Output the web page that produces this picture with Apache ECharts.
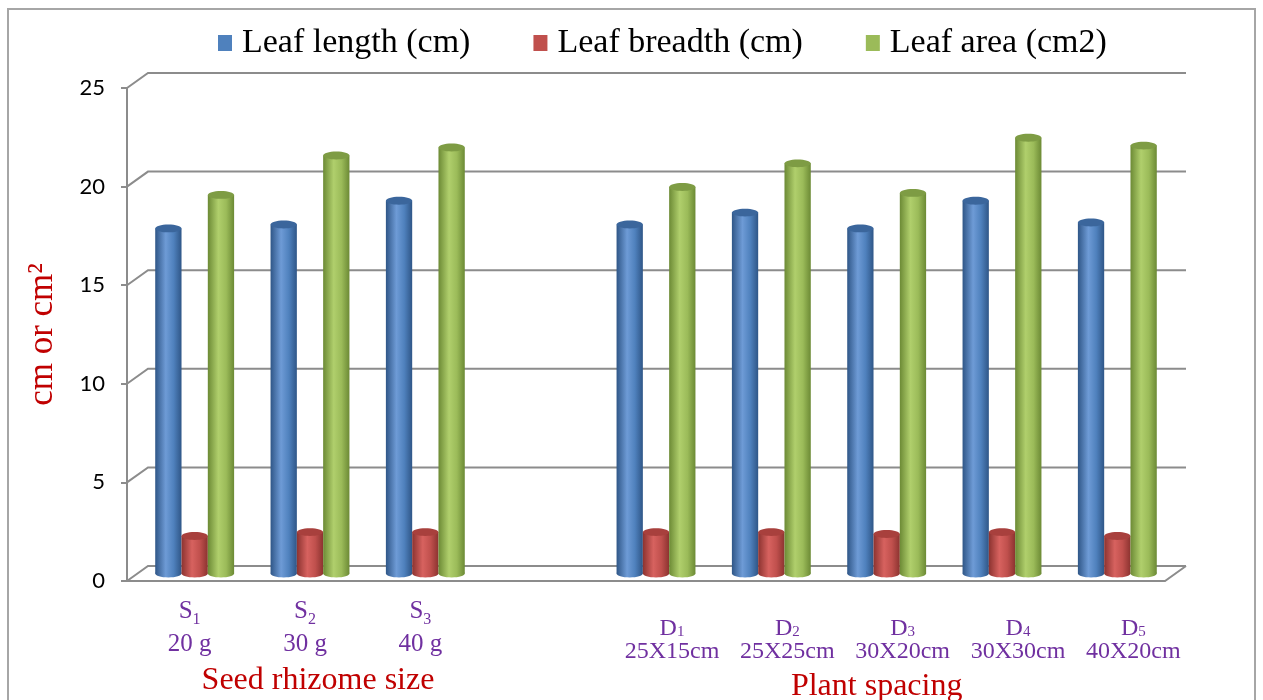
<!DOCTYPE html>
<html>
<head>
<meta charset="utf-8">
<script src="https://cdn.jsdelivr.net/npm/echarts@6/dist/echarts.min.js"></script>
<style>
  html, body { margin: 0; padding: 0; background: #fff; }
  #chart { width: 1263px; height: 700px; }
</style>
</head>
<body>
<div id="chart"></div>
<script>
// categories (index 3 is the empty gap between the two groups)
const codes = ['S', 'S', 'S', '', 'D', 'D', 'D', 'D', 'D']
const codeSubs = ['1', '2', '3', '', '1', '2', '3', '4', '5']
const treatments = ['20 g', '30 g', '40 g', '', '25X15cm', '25X25cm', '30X20cm', '30X30cm', '40X20cm']
const groupTitles = { 1: 'Seed rhizome size', 6: 'Plant spacing' }

// values
const leafLength = [17.5, 17.7, 18.9, null, 17.7, 18.3, 17.5, 18.9, 17.8]
const leafBreadth = [1.9, 2.1, 2.1, null, 2.1, 2.1, 2.0, 2.1, 1.9]
const leafArea = [19.2, 21.2, 21.6, null, 19.6, 20.8, 19.3, 22.1, 21.7]

const yTicks = [0, 5, 10, 15, 20, 25]

// 3D look
const backDX = 21, backDY = 15 // back wall offset
const midDX = 10, midDY = 7.5 // bars stand halfway in depth
const barFrac = 0.228
const gridColor = '#8c8c8c'

const palette = [
  { base: '#4f81bd', light: '#6e9bd6', dark: '#2f5687', top: '#3b669c' },
  { base: '#c0504d', light: '#d7625f', dark: '#8c3330', top: '#a8403d' },
  { base: '#9bbb59', light: '#b0cf6c', dark: '#6c8a35', top: '#7e9c44' }
]

function toPairs(arr) {
  return arr.map((v, i) => (v == null ? null : [i, v])).filter(d => d)
}

function cylinder(pos, col) {
  return function (params, api) {
    const idx = api.value(0)
    const v = api.value(1)
    const base = api.coord([idx, 0])
    const top = api.coord([idx, v])
    const w = api.size([1, 0])[0] * barFrac
    const cx = base[0] + midDX + (pos - 1) * w
    const yb = base[1] - midDY
    const yt = top[1] - midDY
    const ry = w * 0.15
    const grad = {
      type: 'linear', x: 0, y: 0, x2: 1, y2: 0,
      colorStops: [
        { offset: 0, color: col.dark },
        { offset: 0.4, color: col.light },
        { offset: 0.7, color: col.base },
        { offset: 1, color: col.dark }
      ]
    }
    return {
      type: 'group',
      children: [
        { type: 'ellipse', shape: { cx: cx, cy: yb, rx: w / 2, ry: ry }, style: { fill: grad } },
        { type: 'rect', shape: { x: cx - w / 2, y: yt, width: w, height: yb - yt }, style: { fill: grad } },
        { type: 'ellipse', shape: { cx: cx, cy: yt, rx: w / 2, ry: ry }, style: { fill: col.top } }
      ]
    }
  }
}

// back wall gridlines, connectors to the front axis and the floor
function wallItem(params, api) {
  const cs = params.coordSys
  const v = api.value(0)
  const y = api.coord([0, v])[1]
  const x0 = cs.x, x1 = cs.x + cs.width
  const lineStyle = { stroke: gridColor, lineWidth: 2, fill: null }
  const children = [
    { type: 'polyline', shape: { points: [[x0, y], [x0 + backDX, y - backDY], [x1 + backDX, y - backDY]] }, style: lineStyle }
  ]
  if (v === 0) {
    children.push({ type: 'polyline', shape: { points: [[x0, y], [x1, y], [x1 + backDX, y - backDY]] }, style: lineStyle })
  }
  return { type: 'group', children: children }
}

function labelFormatter(value, i) {
  if (!codes[i]) return ''
  const isD = codes[i] === 'D'
  let s
  if (isD) {
    s = '{gap| }\n{d|' + codes[i] + '}{dsub|' + codeSubs[i] + '}\n{d|' + treatments[i] + '}'
  } else {
    s = '{s|' + codes[i] + '}{ssub|' + codeSubs[i] + '}\n{s|' + treatments[i] + '}'
  }
  if (groupTitles[i]) s += '\n{' + (isD ? 'gd' : 'gs') + '|' + groupTitles[i] + '}'
  return s
}

const purple = '#7030a0'
const serif = '"Liberation Serif", "DejaVu Serif", serif'

const chart = echarts.init(document.getElementById('chart'), null, { renderer: 'canvas' })

chart.setOption({
  animation: false,
  graphic: [
    { type: 'rect', shape: { x: 8, y: 9, width: 1247, height: 720 }, style: { fill: null, stroke: '#a6a6a6', lineWidth: 2 }, silent: true }
  ],
  legend: {
    left: 213,
    top: 21,
    itemWidth: 14,
    itemHeight: 16,
    itemGap: 63,
    icon: 'rect',
    textStyle: { fontFamily: serif, fontSize: 34, color: '#000', padding: [0, 0, 0, 5] },
    data: ['Leaf length (cm)', 'Leaf breadth (cm)', 'Leaf area (cm2)']
  },
  grid: { left: 127, right: 98, top: 88, bottom: 119, outerBoundsMode: 'none' },
  xAxis: {
    type: 'category',
    data: codes.map((c, i) => c + codeSubs[i]),
    axisLine: { show: false },
    axisTick: { show: false },
    axisLabel: {
      interval: 0,
      margin: 14,
      formatter: labelFormatter,
      rich: {
        s: { fontFamily: serif, fontSize: 25, color: purple, lineHeight: 33, padding: [0, 0, 0, 10] },
        ssub: { fontFamily: serif, fontSize: 16, color: purple, verticalAlign: 'bottom', lineHeight: 33 },
        gap: { fontSize: 10, lineHeight: 22 },
        d: { fontFamily: serif, fontSize: 24, color: purple, lineHeight: 23, padding: [0, 0, 0, 52] },
        dsub: { fontFamily: serif, fontSize: 15, color: purple, verticalAlign: 'bottom', lineHeight: 23 },
        gs: { fontFamily: serif, fontSize: 32, color: '#c00000', lineHeight: 40, padding: [0, 0, 0, 36] },
        gd: { fontFamily: serif, fontSize: 32, color: '#c00000', lineHeight: 48 }
      }
    },
    splitLine: { show: false }
  },
  yAxis: {
    type: 'value',
    min: 0,
    max: 25,
    interval: 5,
    name: 'cm or cm²',
    nameLocation: 'middle',
    nameRotate: 90,
    nameGap: 67,
    nameTextStyle: { fontFamily: serif, fontSize: 35, color: '#c00000' },
    axisLine: { show: true, lineStyle: { color: gridColor, width: 2 } },
    axisTick: { show: true, length: 6, lineStyle: { color: gridColor, width: 2 } },
    axisLabel: { margin: 22, fontFamily: 'Lato, "Open Sans", sans-serif', fontSize: 22, color: '#000' },
    splitLine: { show: false }
  },
  series: [
    {
      type: 'custom',
      name: 'wall',
      silent: true,
      z: 1,
      renderItem: wallItem,
      encode: { y: 0 },
      data: yTicks.map(v => [v])
    },
    {
      type: 'custom', name: 'Leaf length (cm)', z: 3,
      itemStyle: { color: palette[0].base },
      renderItem: cylinder(0, palette[0]),
      encode: { x: 0, y: 1 },
      data: toPairs(leafLength)
    },
    {
      type: 'custom', name: 'Leaf breadth (cm)', z: 3,
      itemStyle: { color: palette[1].base },
      renderItem: cylinder(1, palette[1]),
      encode: { x: 0, y: 1 },
      data: toPairs(leafBreadth)
    },
    {
      type: 'custom', name: 'Leaf area (cm2)', z: 3,
      itemStyle: { color: palette[2].base },
      renderItem: cylinder(2, palette[2]),
      encode: { x: 0, y: 1 },
      data: toPairs(leafArea)
    }
  ]
})

window.addEventListener('resize', chart.resize)
</script>
</body>
</html>
